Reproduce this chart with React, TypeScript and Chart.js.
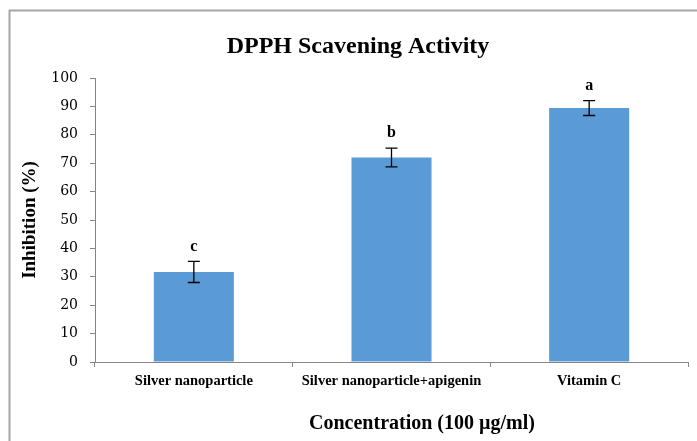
import React, { useEffect, useRef } from "react";
import { Chart, registerables } from "chart.js";

Chart.register(...registerables);

const categories = ["Silver nanoparticle", "Silver nanoparticle+apigenin", "Vitamin C"];
const values = [31.7, 72.0, 89.4];
const errors = [3.7, 3.3, 2.6];
const letters = ["c", "b", "a"];
const yTicks = [0, 10, 20, 30, 40, 50, 60, 70, 80, 90, 100];

const chartTitle = "DPPH Scavening Activity";
const xTitle = "Concentration (100 µg/ml)";
const yTitle = "Inhibition (%)";

const SERIF = "'Liberation Serif', 'DejaVu Serif', serif";
const TICKSERIF = "'DejaVu Serif', 'Liberation Serif', serif";

const overlay = {
  id: "overlay",
  afterDatasetsDraw(chart: any) {
    const ctx = chart.ctx;
    const x = chart.scales.x;
    const y = chart.scales.y;
    ctx.save();
    values.forEach((v, i) => {
      const cx = x.getPixelForValue(i);
      const top = y.getPixelForValue(v + errors[i]);
      const bot = y.getPixelForValue(v - errors[i]);
      ctx.strokeStyle = "#000";
      ctx.lineWidth = 1.3;
      ctx.beginPath();
      ctx.moveTo(cx, top);
      ctx.lineTo(cx, bot);
      ctx.moveTo(cx - 6, top);
      ctx.lineTo(cx + 6, top);
      ctx.moveTo(cx - 6, bot);
      ctx.lineTo(cx + 6, bot);
      ctx.stroke();
      ctx.fillStyle = "#000";
      ctx.font = `bold 16px ${SERIF}`;
      ctx.textAlign = "center";
      ctx.textBaseline = "middle";
      ctx.fillText(letters[i], cx, top - 15);
    });
    ctx.restore();
  },
  afterDraw(chart: any) {
    const ctx = chart.ctx;
    ctx.save();
    ctx.strokeStyle = "#a6a6a6";
    ctx.lineWidth = 2;
    ctx.strokeRect(9.5, 10.5, 760, 500);
    ctx.fillStyle = "#000";
    ctx.textAlign = "center";
    ctx.textBaseline = "middle";
    ctx.font = `bold 24px ${SERIF}`;
    ctx.fillText(chartTitle, 358, 47);
    ctx.font = `bold 20px ${SERIF}`;
    ctx.fillText(xTitle, 422, 424);
    ctx.translate(30, 220);
    ctx.rotate(-Math.PI / 2);
    ctx.font = `bold 19px ${SERIF}`;
    ctx.fillText(yTitle, 0, 0);
    ctx.restore();
  },
};

export default function App() {
  const ref = useRef<HTMLCanvasElement>(null);
  useEffect(() => {
    if (!ref.current) return;
    const chart = new Chart(ref.current, {
      type: "bar",
      data: {
        labels: categories,
        datasets: [
          {
            data: values,
            backgroundColor: "#5B9BD5",
            borderWidth: 0,
            barPercentage: 0.405,
            categoryPercentage: 1,
          },
        ],
      },
      options: {
        responsive: false,
        animation: false,
        layout: { padding: { left: 0, right: 9, top: 78, bottom: 0 } },
        plugins: {
          legend: { display: false },
          title: { display: false },
          tooltip: { enabled: false },
        },
        scales: {
          x: {
            afterFit: (s: any) => {
              s.height = 79;
            },
            grid: {
              display: true,
              drawOnChartArea: false,
              drawTicks: true,
              tickLength: 5,
              color: "#868686",
            },
            border: { display: true, color: "#868686", width: 1 },
            ticks: {
              color: "#000",
              padding: 6,
              maxRotation: 0,
              font: { family: SERIF, size: 14.5, weight: "bold" },
            },
          },
          y: {
            min: 0,
            max: 100,
            afterFit: (s: any) => {
              s.width = 95;
            },
            afterBuildTicks: (s: any) => {
              s.ticks = yTicks.map((v) => ({ value: v }));
            },
            grid: {
              display: true,
              drawOnChartArea: false,
              drawTicks: true,
              tickLength: 5,
              color: "#868686",
            },
            border: { display: true, color: "#868686", width: 1 },
            ticks: {
              color: "#000",
              padding: 12,
              font: { family: TICKSERIF, size: 14 },
            },
          },
        },
      },
      plugins: [overlay],
    });
    return () => chart.destroy();
  }, []);
  return (
    <div style={{ position: "absolute", left: 0, top: 0, width: 697, height: 441, background: "#fff" }}>
      <canvas ref={ref} width={697} height={441} />
    </div>
  );
}
